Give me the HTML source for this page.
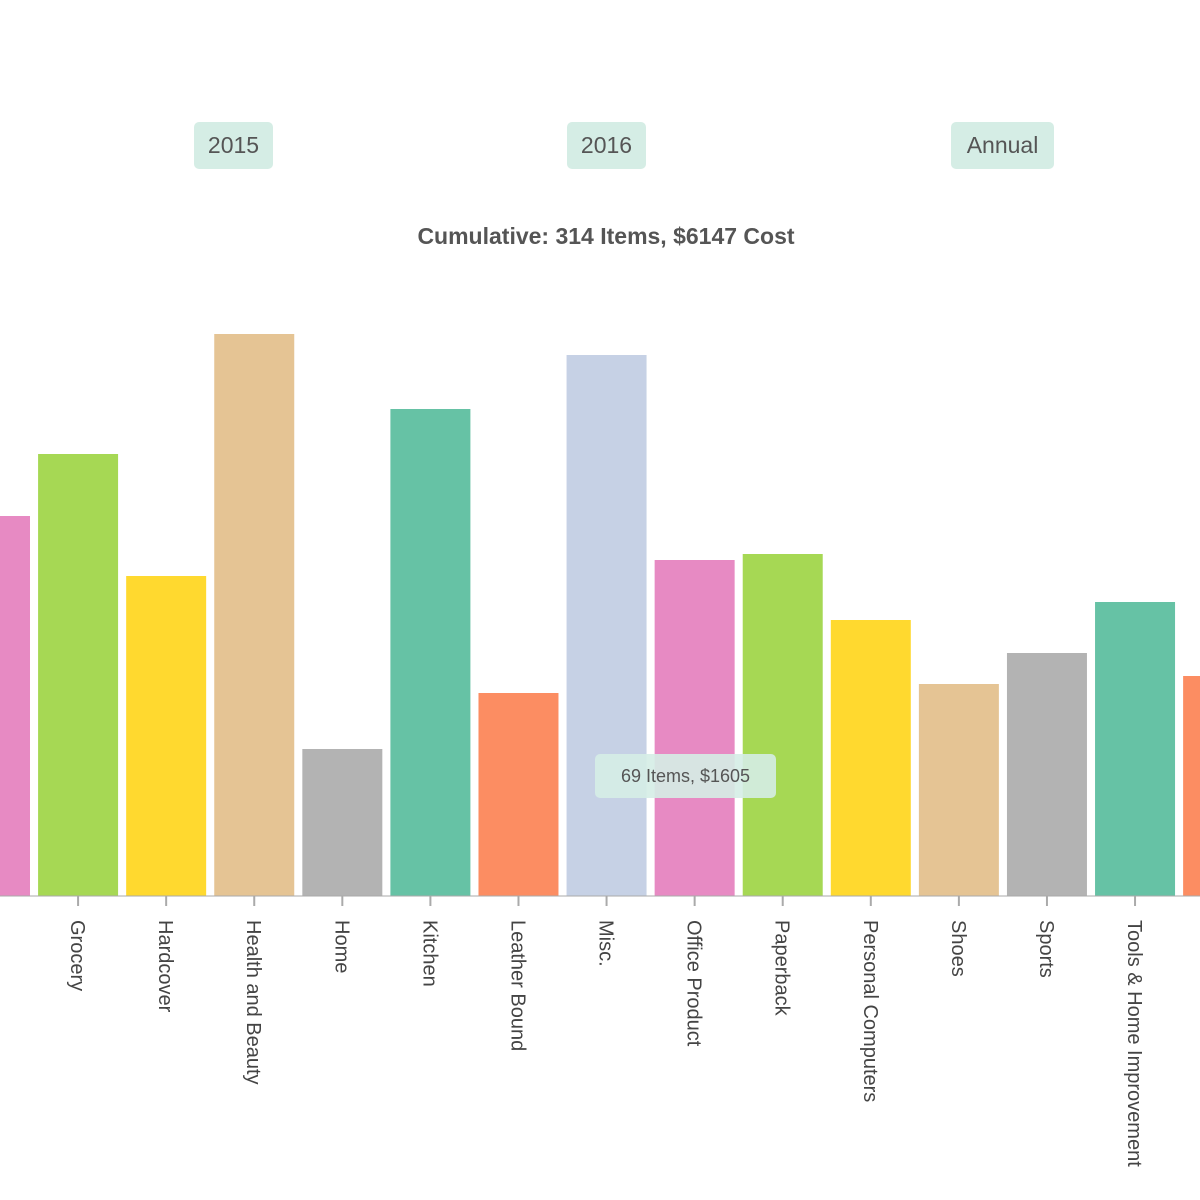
<!DOCTYPE html>
<html><head><meta charset="utf-8"><style>
body{margin:0;width:1200px;height:1200px;background:#fff;overflow:hidden;position:relative;font-family:"Liberation Sans",sans-serif}
.btn{position:absolute;top:122px;height:47px;background:#d5ede5;border-radius:5px;color:#555;font-size:23px;line-height:47px;text-align:center}
#title{position:absolute;top:223px;left:0;width:1212px;text-align:center;font-weight:bold;font-size:23px;color:#555}
#tip{position:absolute;left:595px;top:754px;width:181px;height:44px;background:rgba(213,237,229,0.9);border-radius:5px;color:#555;font-size:18px;line-height:44px;text-align:center}
</style></head><body>
<div class="btn" style="left:194px;width:79px">2015</div>
<div class="btn" style="left:567px;width:79px">2016</div>
<div class="btn" style="left:951px;width:103px">Annual</div>
<div id="title">Cumulative: 314 Items, $6147 Cost</div>
<svg id="chart" width="1200" height="1200" style="position:absolute;left:0;top:0"></svg>
<div id="tip">69 Items, $1605</div>
<script>
const categories=["Electronics","Grocery","Hardcover","Health and Beauty","Home","Kitchen","Leather Bound","Misc.","Office Product","Paperback","Personal Computers","Shoes","Sports","Tools & Home Improvement","Toys"];
const values=[380,442,320,562,147,487,203,541,336,342,276,212,243,294,220];
const colors=["#e78ac3","#a6d854","#ffd92f","#e5c494","#b3b3b3","#66c2a5","#fc8d62","#c6d1e5"];
const NS="http://www.w3.org/2000/svg";
const svg=document.getElementById('chart');
const base=896, step=88.08, x0=-50, bw=80;
function xPos(i){return x0+i*step;}
function yPos(v){return base-v*1.0;}
categories.forEach((c,i)=>{
  const x=xPos(i);
  const r=document.createElementNS(NS,'rect');
  r.setAttribute('x',x);r.setAttribute('y',yPos(values[i]));
  r.setAttribute('width',bw);r.setAttribute('height',base-yPos(values[i]));
  r.setAttribute('fill',colors[i%colors.length]);
  
  
  svg.appendChild(r);
  const t=document.createElementNS(NS,'line');
  const cx=x+bw/2;
  t.setAttribute('x1',cx);t.setAttribute('x2',cx);t.setAttribute('y1',base);t.setAttribute('y2',base+10);
  t.setAttribute('stroke','#aaa');t.setAttribute('stroke-width','2');
  
  
  svg.appendChild(t);
  const l=document.createElementNS(NS,'text');
  l.setAttribute('transform','translate('+(cx-7)+','+(base+24)+') rotate(90)');
  l.setAttribute('font-size','20');l.setAttribute('fill','#444');
  l.setAttribute('font-family','Liberation Sans, sans-serif');
  l.textContent=c;
  
  
  svg.appendChild(l);
});
const ax=document.createElementNS(NS,'line');
ax.setAttribute('x1',0);ax.setAttribute('x2',1200);ax.setAttribute('y1',base);ax.setAttribute('y2',base);
ax.setAttribute('stroke','#aaa');ax.setAttribute('stroke-width','1');


svg.appendChild(ax);
</script>
</body></html>
